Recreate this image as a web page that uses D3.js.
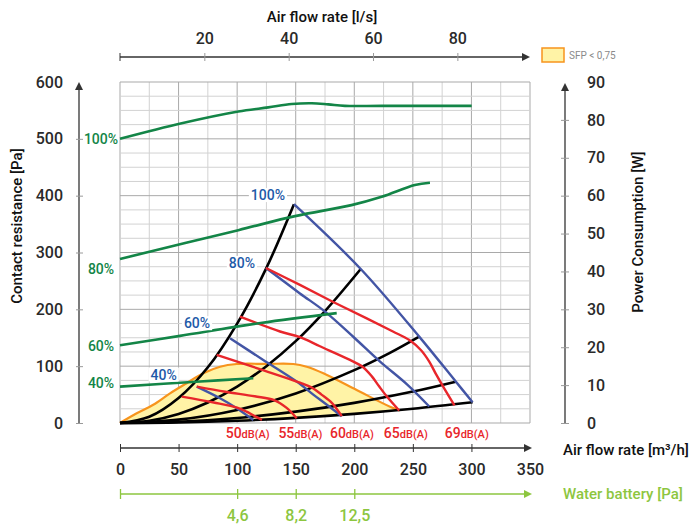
<!DOCTYPE html>
<html><head><meta charset="utf-8">
<script src="https://cdn.jsdelivr.net/npm/d3@7"></script>
<style>
body{margin:0;background:#fff;}
svg text{font-family:Roboto,"Open Sans",sans-serif;}
</style></head><body>
<svg id="c" width="698" height="524"></svg>
<script>
// ---------- data ----------
const flowTicks = [0,50,100,150,200,250,300,350];
const lsTicks = [20,40,60,80];
const paTicks = [0,100,200,300,400,500,600];
const wTicks = [0,10,20,30,40,50,60,70,80,90];
const waterTicks = [100,150,200];
const waterLabels = ["4,6","8,2","12,5"];

// system curves (m3/h, Pa)
const sys1 = [[0,0],[25,11],[50,44],[75,98],[100,175],[125,273],[148.5,385]];
const sys2 = [[0,0],[25,4],[50,16],[75,36],[100,64],[125,100],[150,144],[175,197],[205.5,271]];
const sys3 = [[0,0],[50,6],[100,23],[150,52],[200,93],[230,123],[255.4,152]];
const sys4 = [[0,0],[50,2.2],[100,8.9],[150,20],[200,35.4],[250,55.3],[286.6,72.7]];
const sys5 = [[0,0],[50,1],[100,4],[150,9],[200,16.1],[250,25.1],[301,36.4]];
const systemCurves = [sys1,sys2,sys3,sys4,sys5];

// fan speed curves (m3/h, Pa)
const speedNames = ["100%","80%","60%","40%"];
const speed100 = [[148.5,385],[205.5,271],[255.4,152],[286.6,73],[301,36.4]];
const speed80 = [[124.6,272.7],[153.6,228],[175,196],[200,150],[222,108],[245,68],[264,29]];
const speed60 = [[93.9,149],[122.3,111],[150.8,73],[165,50],[176,33],[189.3,12]];
const speed40 = [[65.5,64],[85.4,43.5],[99.6,26],[113.8,5.3]];
const speedLines = [speed100,speed80,speed60,speed40];

// noise lines (m3/h, Pa)
const noiseNames = ["50","55","60","65","69"];
const noise50 = [[52.7,46.3],[80,36],[100,27],[108,20],[115,12],[121.2,5.5]];
const noise55 = [[65.5,64],[90,55],[115,47],[132,40],[142,27],[150.8,8.5]];
const noise60 = [[82.5,120],[122,93],[153.6,71],[164,62],[172,50],[181,35],[189.3,12]];
const noise65 = [[102.4,187],[136.6,161],[153.6,151],[170.7,135],[196.3,111],[207,99],[215,82],[221,65],[228,46],[238.3,22]];
const noise69 = [[124.6,272.7],[153.6,243],[182,213],[210.6,184],[233,161],[247,146],[257,128],[264,108],[270,85],[277,60],[285.5,31]];
const noiseLines = [noise50,noise55,noise60,noise65,noise69];

// power consumption curves (m3/h, W)
const powerNames = ["100%","80%","60%","40%"];
const power100 = [[0,75],[52.7,79.1],[101,82.2],[126.6,83.3],[146.6,84.2],[163.7,84.4],[177.8,84.1],[192,83.7],[223.4,83.7],[300.2,83.7]];
const power80 = [[0,43.3],[101,50.9],[149.4,54.6],[197.6,57.5],[223.4,59.7],[251.7,62.8],[264.6,63.4]];
const power60 = [[0,20.5],[51.2,23],[120,26.4],[185,29]];
const power40 = [[0,9.6],[65,10.9],[113.8,11.8]];
const powerLines = [power100,power80,power60,power40];

// SFP < 0,75 region upper boundary (m3/h, Pa)
const sfpTop = [[0,0],[14.3,17],[28.4,32],[42.7,52],[56.9,70],[71.1,87.5],[85.4,99],[99.6,103.8],[125,104],[148,103.8],[159.4,99],[173.6,87.5],[202,58],[230.5,28.7],[239,22]];

// ---------- layout ----------
const svg = d3.select("#c");
const x = d3.scaleLinear([0,350],[120,530]);
const y = d3.scaleLinear([0,600],[423,82]);
const yW = d3.scaleLinear([0,90],[423,82]);
const xLs = d3.scaleLinear([0,350/3.6],[120,530]);

const C = {grid:"#d2d2d2", major:"#a9a9a9", axis:"#333", tick:"#9a9a9a", txt:"#2a2a2a",
  black:"#000", blue:"#4355a5", blueTxt:"#1e5aa8", red:"#e8262b", green:"#138547", orange:"#f7941d", fill:"#fff3a6", water:"#8dc63f"};

// grid
const g = svg.append("g");
d3.range(0,351,25).forEach(v=>{
  g.append("line").attr("x1",x(v)).attr("x2",x(v)).attr("y1",y(0)).attr("y2",y(600))
   .attr("stroke", v%50===0?C.major:C.grid).attr("stroke-width",1);
});
d3.range(0,601,25).forEach(v=>{
  g.append("line").attr("x1",x(0)).attr("x2",x(350)).attr("y1",y(v)).attr("y2",y(v))
   .attr("stroke", v%100===0?C.major:C.grid).attr("stroke-width",1);
});

const line = d3.line().x(d=>x(d[0])).y(d=>y(d[1])).curve(d3.curveCatmullRom.alpha(0.5));
const lineW = d3.line().x(d=>x(d[0])).y(d=>yW(d[1])).curve(d3.curveCatmullRom.alpha(0.5));

// SFP area
const lower = sys5.filter(d=>d[0]<239).slice().reverse();
const areaPts = sfpTop.concat(lower);
svg.append("path").attr("d", d3.line().x(d=>x(d[0])).y(d=>y(d[1])).curve(d3.curveLinear)(areaPts))
  .attr("fill",C.fill).attr("stroke","none");
svg.append("path").attr("d", line(sfpTop)).attr("fill","none").attr("stroke",C.orange).attr("stroke-width",2.2);

// system curves
systemCurves.forEach(c=>svg.append("path").attr("d",line(c)).attr("fill","none")
  .attr("stroke",C.black).attr("stroke-width",2.6));

// fan speed curves
speedLines.forEach(c=>svg.append("path").attr("d",line(c)).attr("fill","none")
  .attr("stroke",C.blue).attr("stroke-width",2.4));

// noise curves
noiseLines.forEach(c=>svg.append("path").attr("d",line(c)).attr("fill","none")
  .attr("stroke",C.red).attr("stroke-width",2.4));

// power curves
powerLines.forEach(c=>svg.append("path").attr("d",lineW(c)).attr("fill","none")
  .attr("stroke",C.green).attr("stroke-width",2.6));

// speed labels (white background)
const speedOff = [[-26,-9],[-24,-5],[-33,-15],[-33,-12]];
speedNames.forEach((n,i)=>{
  const p = speedLines[i][0];
  const cx = x(p[0])+speedOff[i][0], cy = y(p[1])+speedOff[i][1];
  const t = svg.append("text").attr("x",cx).attr("y",cy).attr("dy","0.35em")
    .attr("text-anchor","middle").attr("font-size",14).attr("font-weight",500)
    .attr("fill",C.blueTxt).text(n);
  const bb = t.node().getBBox();
  svg.insert("rect", function(){return t.node();}).attr("x",bb.x-2).attr("y",bb.y+1).attr("width",bb.width+4).attr("height",bb.height-2).attr("fill","#fff");
});

// power labels at left
const powerOff = [0,10,1,-4];
powerNames.forEach((n,i)=>{
  const p = powerLines[i][0];
  const t = svg.append("text").attr("x",101).attr("y",yW(p[1])+powerOff[i]).attr("dy","0.35em")
    .attr("text-anchor","middle").attr("font-size",14).attr("font-weight",500)
    .attr("fill",C.green).text(n);
  const bb = t.node().getBBox();
  svg.insert("rect", function(){return t.node();}).attr("x",bb.x-1).attr("y",bb.y+2).attr("width",bb.width+2).attr("height",bb.height-4).attr("fill","#fff");
});

// noise labels
const noiseLabelX = [109,154,198,244,296];
noiseNames.forEach((n,i)=>{
  const t = svg.append("text").attr("x",x(noiseLabelX[i])).attr("y",438)
    .attr("text-anchor","middle").attr("fill",C.red).attr("font-weight",500);
  t.append("tspan").attr("font-size",14).text(n);
  t.append("tspan").attr("font-size",11).text("dB(A)");
});

// arrow helper
function arrow(px,py,dir,color){
  const s=4, l=8;
  let pts;
  if(dir==="right") pts=[[px,py],[px-l,py-s],[px-l,py+s]];
  else pts=[[px,py],[px-s,py+l],[px+s,py+l]];
  svg.append("path").attr("d","M"+pts.map(p=>p.join(",")).join("L")+"Z").attr("fill",color);
}

// top axis (l/s)
const topY = 57;
svg.append("line").attr("x1",120).attr("x2",526).attr("y1",topY).attr("y2",topY).attr("stroke",C.axis).attr("stroke-width",1.3);
arrow(530,topY,"right",C.axis);
const ta = svg.append("g").attr("transform",`translate(0,${topY})`).call(d3.axisTop(xLs).tickValues(lsTicks).tickSize(5).tickPadding(8));
ta.select(".domain").remove();
ta.selectAll(".tick line").attr("y1",-4).attr("y2",4).attr("stroke",C.tick);
ta.selectAll(".tick text").attr("font-size",16).attr("font-weight",500).attr("fill",C.txt).attr("font-family","Roboto");
svg.append("line").attr("x1",120).attr("x2",120).attr("y1",topY-4).attr("y2",topY+4).attr("stroke",C.axis);
svg.append("text").attr("x",322).attr("y",22).attr("text-anchor","middle").attr("font-size",15).attr("font-weight",500).attr("fill","#111").text("Air flow rate [l/s]");

// legend
svg.append("rect").attr("x",542).attr("y",48).attr("width",22).attr("height",14).attr("fill",C.fill).attr("stroke",C.orange).attr("stroke-width",1.5);
svg.append("text").attr("x",569).attr("y",59).attr("font-size",10).attr("fill","#8a8a8a").text("SFP < 0,75");

// left axis
const leftX = 79;
svg.append("line").attr("x1",leftX).attr("x2",leftX).attr("y1",423).attr("y2",88).attr("stroke",C.axis).attr("stroke-width",1.3);
arrow(leftX,82,"up",C.axis);
const la = svg.append("g").attr("transform",`translate(${leftX},0)`).call(d3.axisLeft(y).tickValues(paTicks).tickSize(4).tickPadding(12));
la.select(".domain").remove();
la.selectAll(".tick line").attr("x1",-3).attr("x2",4).attr("stroke",C.tick);
la.selectAll(".tick").filter(d=>d===600).select("line").remove();
la.selectAll(".tick text").attr("font-size",16).attr("font-weight",500).attr("fill",C.txt).attr("font-family","Roboto");
svg.append("text").attr("transform","translate(22,226) rotate(-90)").attr("text-anchor","middle").attr("font-size",15).attr("font-weight",500).attr("fill","#111").text("Contact resistance [Pa]");

// right axis
const rightX = 565;
svg.append("line").attr("x1",rightX).attr("x2",rightX).attr("y1",423).attr("y2",89).attr("stroke",C.axis).attr("stroke-width",1.3);
arrow(rightX,83,"up",C.axis);
const ra = svg.append("g").attr("transform",`translate(${rightX},0)`).call(d3.axisRight(yW).tickValues(wTicks).tickSize(4).tickPadding(18));
ra.select(".domain").remove();
ra.selectAll(".tick line").attr("x1",-4).attr("x2",4).attr("stroke",C.tick);
ra.selectAll(".tick").filter(d=>d===90).select("line").remove();
ra.selectAll(".tick text").attr("font-size",16).attr("font-weight",500).attr("fill",C.txt).attr("font-family","Roboto");
svg.append("text").attr("transform","translate(643,232) rotate(-90)").attr("text-anchor","middle").attr("font-size",15).attr("font-weight",500).attr("fill","#111").text("Power Consumption [W]");

// bottom axis (m3/h)
const botY = 448;
svg.append("line").attr("x1",120).attr("x2",527).attr("y1",botY).attr("y2",botY).attr("stroke",C.axis).attr("stroke-width",1.3);
arrow(532,botY,"right",C.axis);
const ba = svg.append("g").attr("transform",`translate(0,${botY})`).call(d3.axisBottom(x).tickValues(flowTicks).tickSize(4).tickPadding(12));
ba.select(".domain").remove();
ba.selectAll(".tick line").attr("y1",-4).attr("y2",4).attr("stroke",C.axis);
ba.selectAll(".tick").filter(d=>d===350).select("line").remove();
ba.selectAll(".tick text").attr("font-size",16).attr("font-weight",500).attr("fill",C.txt).attr("font-family","Roboto");
svg.append("text").attr("x",563).attr("y",455).attr("font-size",15).attr("font-weight",500).attr("fill","#111").text("Air flow rate [m³/h]");

// water battery axis
const wbY = 494;
svg.append("line").attr("x1",120).attr("x2",527).attr("y1",wbY).attr("y2",wbY).attr("stroke",C.water).attr("stroke-width",1.3);
arrow(532,wbY,"right",C.water);
const wa = svg.append("g").attr("transform",`translate(0,${wbY})`).call(d3.axisBottom(x).tickValues([0].concat(waterTicks)).tickSize(4).tickPadding(12).tickFormat((d,i)=>i===0?"":waterLabels[i-1]));
wa.select(".domain").remove();
wa.selectAll(".tick line").attr("y1",-5).attr("y2",5).attr("stroke",C.water).attr("stroke-width",1.3);
wa.selectAll(".tick text").attr("font-size",16).attr("font-weight",500).attr("fill",C.water).attr("font-family","Roboto");
svg.append("text").attr("x",563).attr("y",499).attr("font-size",15).attr("font-weight",500).attr("fill",C.water).text("Water battery [Pa]");
</script></body></html>
